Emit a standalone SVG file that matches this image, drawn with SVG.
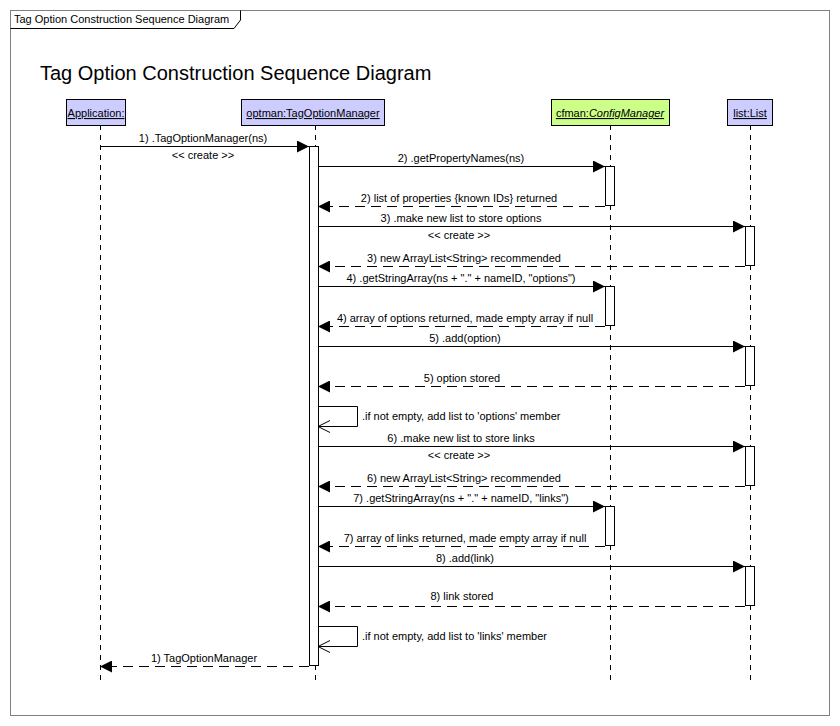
<svg xmlns="http://www.w3.org/2000/svg" width="840" height="726" viewBox="0 0 840 726">
<defs>
<style>
text{font-family:"Liberation Sans",Arial,sans-serif;font-size:11px;fill:#000}
.c{text-anchor:middle}
.part{fill:#ccccff;stroke:#000;stroke-width:1}
.partg{fill:#ccff88;stroke:#000;stroke-width:1}
.life{stroke:#000;stroke-width:1;stroke-dasharray:5 5;fill:none}
.act{fill:#fff;stroke:#000;stroke-width:1}
.msg{stroke:#000;stroke-width:1;fill:none}
.ret{stroke:#000;stroke-width:1;fill:none;stroke-dasharray:10 6}
.u{text-decoration:underline}
</style>
<marker id="fa" markerWidth="12" markerHeight="12" refX="12" refY="6" orient="auto" markerUnits="userSpaceOnUse">
<path d="M0,0 L12,6 L0,12 Z" fill="#000"/>
</marker>
<marker id="oa" markerWidth="14" markerHeight="14" refX="13" refY="7" orient="auto" markerUnits="userSpaceOnUse">
<path d="M1,1 L13,7 L1,13" fill="none" stroke="#000" stroke-width="1"/>
</marker>
</defs>
<rect x="0" y="0" width="840" height="726" fill="#fff"/>
<g id="frame">
<rect x="10.5" y="10.5" width="819" height="705" fill="none" stroke="#808080"/>
<path d="M10.5,28.5 L234,28.5 L240.5,20 L240.5,10.5" fill="none" stroke="#000"/>
<text x="14" y="23">Tag Option Construction Sequence Diagram</text>
<text x="40" y="80" style="font-size:20px">Tag Option Construction Sequence Diagram</text>
</g>
<g id="lifelines">
<line class="life" x1="100.5" y1="125" x2="100.5" y2="685"/>
<line class="life" x1="315.5" y1="125" x2="315.5" y2="685"/>
<line class="life" x1="610.5" y1="125" x2="610.5" y2="685"/>
<line class="life" x1="750.5" y1="125" x2="750.5" y2="685"/>
</g>
<g id="p-application">
<rect class="part" x="66.5" y="99.5" width="59" height="26"/>
<text class="c u" x="96" y="117">Application:</text>
</g>
<g id="p-optman">
<rect class="part" x="241.5" y="99.5" width="143" height="26"/>
<text class="c u" x="313" y="117">optman:TagOptionManager</text>
</g>
<g id="p-cfman">
<rect class="partg" x="551.5" y="99.5" width="118" height="26"/>
<text class="c u" x="610" y="117">cfman:<tspan font-style="italic">ConfigManager</tspan></text>
</g>
<g id="p-list">
<rect class="part" x="727.5" y="99.5" width="45" height="26"/>
<text class="c u" x="750" y="117">list:List</text>
</g>
<g id="activations">
<rect class="act" x="309.5" y="146.5" width="9" height="519"/>
<rect class="act" x="605.5" y="166.5" width="9" height="39"/>
<rect class="act" x="745.5" y="226.5" width="9" height="39"/>
<rect class="act" x="605.5" y="286.5" width="9" height="39"/>
<rect class="act" x="745.5" y="346.5" width="9" height="39"/>
<rect class="act" x="745.5" y="446.5" width="9" height="39"/>
<rect class="act" x="605.5" y="506.5" width="9" height="39"/>
<rect class="act" x="745.5" y="566.5" width="9" height="39"/>
</g>
<g id="connectors">
<line class="msg" x1="100" y1="146.5" x2="309" y2="146.5" marker-end="url(#fa)"/>
<line class="msg" x1="318" y1="166.5" x2="605" y2="166.5" marker-end="url(#fa)"/>
<line class="ret" x1="605" y1="206.5" x2="318" y2="206.5" marker-end="url(#fa)"/>
<line class="msg" x1="318" y1="226.5" x2="745" y2="226.5" marker-end="url(#fa)"/>
<line class="ret" x1="745" y1="266.5" x2="318" y2="266.5" marker-end="url(#fa)"/>
<line class="msg" x1="318" y1="286.5" x2="605" y2="286.5" marker-end="url(#fa)"/>
<line class="ret" x1="605" y1="326.5" x2="318" y2="326.5" marker-end="url(#fa)"/>
<line class="msg" x1="318" y1="346.5" x2="745" y2="346.5" marker-end="url(#fa)"/>
<line class="ret" x1="745" y1="386.5" x2="318" y2="386.5" marker-end="url(#fa)"/>
<path class="msg" d="M318,406.5 L357.5,406.5 L357.5,426.5 L318,426.5" marker-end="url(#oa)"/>
<line class="msg" x1="318" y1="446.5" x2="745" y2="446.5" marker-end="url(#fa)"/>
<line class="ret" x1="745" y1="486.5" x2="318" y2="486.5" marker-end="url(#fa)"/>
<line class="msg" x1="318" y1="506.5" x2="605" y2="506.5" marker-end="url(#fa)"/>
<line class="ret" x1="605" y1="546.5" x2="318" y2="546.5" marker-end="url(#fa)"/>
<line class="msg" x1="318" y1="566.5" x2="745" y2="566.5" marker-end="url(#fa)"/>
<line class="ret" x1="745" y1="606.5" x2="318" y2="606.5" marker-end="url(#fa)"/>
<path class="msg" d="M318,626.5 L357.5,626.5 L357.5,646.5 L318,646.5" marker-end="url(#oa)"/>
<line class="ret" x1="309" y1="666.5" x2="100" y2="666.5" marker-end="url(#fa)"/>
</g>
<g id="labels">
<text class="c" x="203" y="142">1) .TagOptionManager(ns)</text>
<text class="c" x="203" y="159">&lt;&lt; create &gt;&gt;</text>
<text class="c" x="461" y="162">2) .getPropertyNames(ns)</text>
<text class="c" x="459" y="202">2) list of properties {known IDs} returned</text>
<text class="c" x="461" y="222">3) .make new list to store options</text>
<text class="c" x="459" y="239">&lt;&lt; create &gt;&gt;</text>
<text class="c" x="464" y="262">3) new ArrayList&lt;String&gt; recommended</text>
<text class="c" x="461" y="282">4) .getStringArray(ns + "." + nameID, "options")</text>
<text class="c" x="465" y="322">4) array of options returned, made empty array if null</text>
<text class="c" x="465" y="342">5) .add(option)</text>
<text class="c" x="462" y="382">5) option stored</text>
<text x="362" y="420">.if not empty, add list to 'options' member</text>
<text class="c" x="461" y="442">6) .make new list to store links</text>
<text class="c" x="459" y="459">&lt;&lt; create &gt;&gt;</text>
<text class="c" x="464" y="482">6) new ArrayList&lt;String&gt; recommended</text>
<text class="c" x="461" y="502">7) .getStringArray(ns + "." + nameID, "links")</text>
<text class="c" x="465" y="542">7) array of links returned, made empty array if null</text>
<text class="c" x="465" y="562">8) .add(link)</text>
<text class="c" x="462" y="600">8) link stored</text>
<text x="362" y="640">.if not empty, add list to 'links' member</text>
<text class="c" x="204" y="662">1) TagOptionManager</text>
</g>
</svg>
